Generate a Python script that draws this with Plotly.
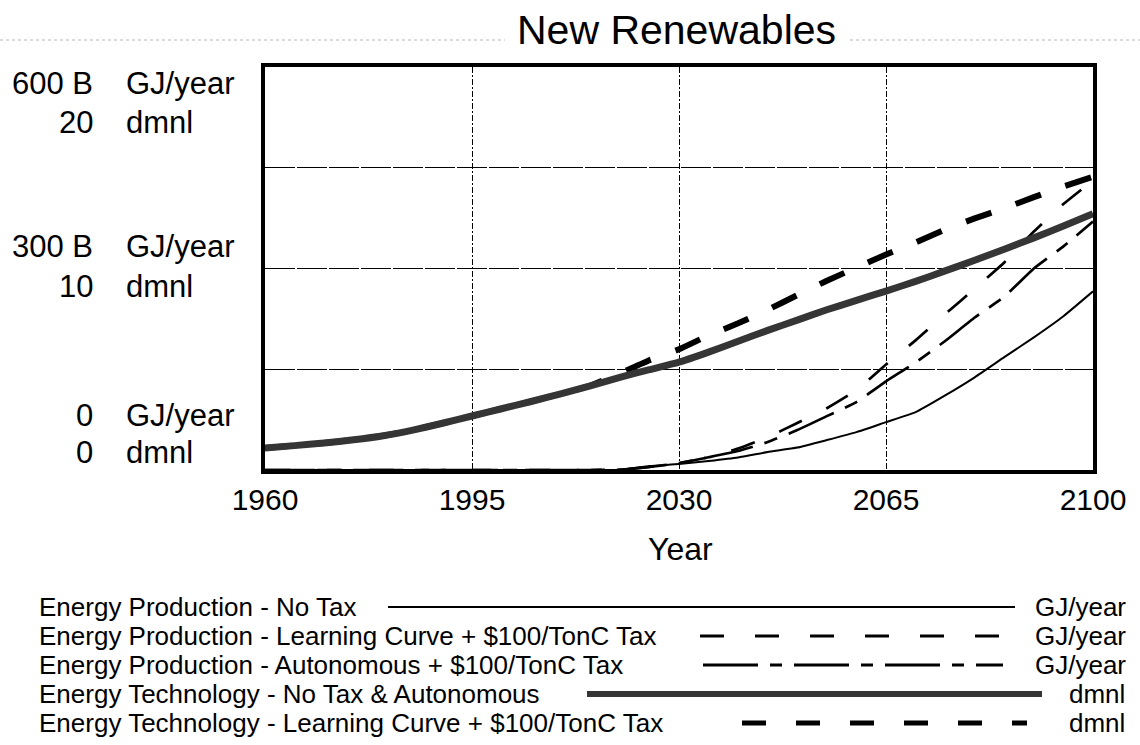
import plotly.graph_objects as go

# ---------------- data ----------------
years = [1960, 1965, 1970, 1975, 1980, 1985, 1990, 1995, 2000, 2005,
         2010, 2015, 2020, 2025, 2030, 2035, 2040, 2045, 2050, 2055,
         2060, 2065, 2070, 2075, 2080, 2085, 2090, 2095, 2100]

# Energy production, billions of GJ/year
prod_no_tax = [0, 0, 0, 0, 0, 0, 0, 0, 0, 0, 0, 0,
               0.5, 5.9, 8.9, 13.4, 18.6, 26.7, 33.4, 44.6, 56.4, 71.3,
               86.1, 111, 138, 168, 197.5, 229, 266]
prod_learning = [0, 0, 0, 0, 0, 0, 0, 0, 0, 0, 0, 0,
                 0.5, 4.5, 10.4, 19, 32, 49, 70, 92, 119, 157,
                 193, 232, 270, 309, 355, 396, 431]
prod_autonomous = [0, 0, 0, 0, 0, 0, 0, 0, 0, 0, 0, 0,
                   0.5, 4.5, 10.4, 19, 28.2, 41.6, 59.4, 80.2, 101, 132,
                   160, 192, 227, 258, 300, 333, 370]

# Energy technology, dimensionless
tech_no_tax = [1.09, 1.21, 1.34, 1.50, 1.70, 1.98, 2.32, 2.68, 3.04, 3.40,
               3.78, 4.18, 4.60, 4.98, 5.35, 5.85, 6.39, 6.93, 7.44, 7.95,
               8.42, 8.88, 9.36, 9.88, 10.41, 10.96, 11.52, 12.11, 12.72]
tech_learning = [1.09, 1.21, 1.34, 1.50, 1.70, 1.98, 2.32, 2.68, 3.04, 3.40,
                 3.78, 4.18, 4.80, 5.45, 5.99, 6.68, 7.28, 7.95, 8.68, 9.39,
                 10.05, 10.69, 11.29, 11.93, 12.49, 12.99, 13.54, 14.07, 14.55]

x_ticks = [1960, 1995, 2030, 2065, 2100]
x_tick_labels = ["1960", "1995", "2030", "2065", "2100"]
gj_grid = [0, 150, 300, 450, 600]
gj_label_vals = [0, 300, 600]
gj_labels = ["0", "300 B", "600 B"]
dmnl_labels = ["0", "10", "20"]

series_names = [
    "Energy Production - No Tax",
    "Energy Production - Learning Curve + $100/TonC Tax",
    "Energy Production - Autonomous + $100/TonC Tax",
    "Energy Technology - No Tax & Autonomous",
    "Energy Technology - Learning Curve + $100/TonC Tax",
]
series_units = ["GJ/year", "GJ/year", "GJ/year", "dmnl", "dmnl"]

# ---------------- layout helpers ----------------
FONT = "Liberation Sans, Arial, Helvetica, sans-serif"
W, H = 1140, 745
L, R, T, B = 265, 47, 67, 275
PW = W - L - R
PH = H - T - B


def fx(px):
    return (px - L) / PW


def fy(py):
    return (H - B - py) / PH


THICK_GRAY = "#353535"
DASH_PROD_LC = "25px,27px"
DASH_PROD_AU = "50px,12px,14px,12px"
DASH_TECH_LC = "27px,26px"

fig = go.Figure()

# technology (dmnl) on the secondary scale
fig.add_trace(go.Scatter(x=years, y=tech_learning, yaxis="y2", mode="lines",
                         name=series_names[4],
                         line=dict(color="black", width=6, dash=DASH_TECH_LC,
                                   shape="spline", smoothing=0.4)))
fig.add_trace(go.Scatter(x=years, y=tech_no_tax, yaxis="y2", mode="lines",
                         name=series_names[3],
                         line=dict(color=THICK_GRAY, width=7,
                                   shape="spline", smoothing=0.4)))
# production (GJ/year)
fig.add_trace(go.Scatter(x=years, y=prod_no_tax, mode="lines",
                         name=series_names[0],
                         line=dict(color="black", width=2,
                                   shape="spline", smoothing=0.4)))
fig.add_trace(go.Scatter(x=years, y=prod_learning, mode="lines",
                         name=series_names[1],
                         line=dict(color="black", width=2.7, dash=DASH_PROD_LC,
                                   shape="spline", smoothing=0.4)))
fig.add_trace(go.Scatter(x=years, y=prod_autonomous, mode="lines",
                         name=series_names[2],
                         line=dict(color="black", width=2.7, dash=DASH_PROD_AU,
                                   shape="spline", smoothing=0.4)))

annotations = []
# title
annotations.append(dict(text="New Renewables", x=fx(676), y=fy(30),
                        xref="paper", yref="paper", xanchor="center",
                        yanchor="middle", showarrow=False,
                        font=dict(family=FONT, size=41, color="black")))
# x-axis title
annotations.append(dict(text="Year", x=fx(680), y=fy(549),
                        xref="paper", yref="paper", xanchor="center",
                        yanchor="middle", showarrow=False,
                        font=dict(family=FONT, size=32, color="black")))

# y-axis double labels (value + unit, GJ line above dmnl line)
label_shifts = [(55, 18), (22, -18), (-16, -55)]
for v, gl, dl, (s1, s2) in zip(gj_label_vals, gj_labels, dmnl_labels, label_shifts):
    for txt, unit, sh in ((gl, "GJ/year", s1), (dl, "dmnl", s2)):
        annotations.append(dict(text=txt, x=fx(95), y=v, xref="paper", yref="y",
                                xanchor="right", yanchor="middle", yshift=sh,
                                showarrow=False,
                                font=dict(family=FONT, size=31, color="black")))
        annotations.append(dict(text=unit, x=fx(124), y=v, xref="paper", yref="y",
                                xanchor="left", yanchor="middle", yshift=sh,
                                showarrow=False,
                                font=dict(family=FONT, size=31, color="black")))

# custom legend
row_y = [607, 636, 665, 694, 723]
unit_x = [1033, 1033, 1033, 1067, 1067]
for name, unit, ry, ux in zip(series_names, series_units, row_y, unit_x):
    annotations.append(dict(text=name, x=fx(37), y=fy(ry), xref="paper", yref="paper",
                            xanchor="left", yanchor="middle", showarrow=False,
                            font=dict(family=FONT, size=26, color="black")))
    annotations.append(dict(text=unit, x=fx(ux), y=fy(ry), xref="paper", yref="paper",
                            xanchor="left", yanchor="middle", showarrow=False,
                            font=dict(family=FONT, size=26, color="black")))

legend_samples = [
    (388, 1015, dict(color="black", width=2)),
    (700, 1003, dict(color="black", width=3, dash="24px,31px")),
    (703, 1003, dict(color="black", width=3, dash="55px,12px,12px,12px")),
    (587, 1042, dict(color=THICK_GRAY, width=6)),
    (742, 1027, dict(color="black", width=5, dash="24px,30px")),
]
shapes = []
for (x0, x1, ln), ry in zip(legend_samples, row_y):
    shapes.append(dict(type="line", xref="paper", yref="paper",
                       x0=fx(x0), x1=fx(x1), y0=fy(ry), y1=fy(ry), line=ln))

# faint scanned header rule
for x0, x1 in ((0, 505), (850, 1140)):
    shapes.append(dict(type="line", xref="paper", yref="paper",
                       x0=fx(x0), x1=fx(x1), y0=fy(40), y1=fy(40),
                       line=dict(color="#b8b8b8", width=1, dash="dot")))

fig.update_layout(
    width=W, height=H,
    margin=dict(l=L, r=R, t=T, b=B, autoexpand=False),
    paper_bgcolor="white", plot_bgcolor="white",
    showlegend=False,
    xaxis=dict(range=[1960, 2100], tickmode="array", tickvals=x_ticks,
               ticktext=x_tick_labels, showgrid=True, gridcolor="black",
               gridwidth=1.2, griddash="6px,2px,2px,2px",
               showline=True, linecolor="black", linewidth=4, mirror=True,
               ticks="", ticklabelstandoff=0, zeroline=False,
               tickfont=dict(family=FONT, size=30, color="black")),
    yaxis=dict(range=[0, 600], tickmode="array", tickvals=gj_grid,
               showticklabels=False, showgrid=True, gridcolor="black",
               gridwidth=1.2, griddash="30px,2px",
               showline=True, linecolor="black", linewidth=4, mirror=True,
               ticks="", zeroline=False),
    yaxis2=dict(range=[0, 20], overlaying="y", showgrid=False,
                showticklabels=False, zeroline=False, showline=False),
    annotations=annotations,
    shapes=shapes,
)

fig.write_html("out.html", config={"displayModeBar": False},
               post_script="document.body.style.margin='0px';")
